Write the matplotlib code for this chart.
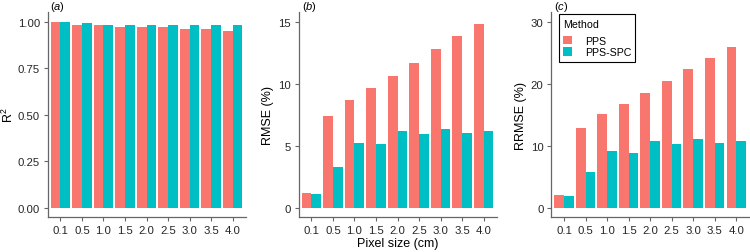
import numpy as np
import matplotlib
matplotlib.use("Agg")
import matplotlib.pyplot as plt

plt.rcParams["font.family"] = ["Liberation Sans", "DejaVu Sans"]
plt.rcParams["mathtext.fontset"] = "custom"
plt.rcParams["mathtext.rm"] = "Liberation Sans"
plt.rcParams["mathtext.it"] = "Liberation Sans:italic"

pixel_sizes = ["0.1", "0.5", "1.0", "1.5", "2.0", "2.5", "3.0", "3.5", "4.0"]
methods = ["PPS", "PPS-SPC"]

r2_pps = [1.00, 0.98, 0.98, 0.97, 0.97, 0.97, 0.96, 0.96, 0.95]
r2_spc = [1.00, 0.99, 0.98, 0.98, 0.98, 0.98, 0.98, 0.98, 0.98]

rmse_pps = [1.19, 7.39, 8.66, 9.61, 10.59, 11.70, 12.81, 13.86, 14.84]
rmse_spc = [1.11, 3.27, 5.25, 5.10, 6.18, 5.92, 6.36, 6.02, 6.21]

rrmse_pps = [2.02, 12.9, 15.08, 16.73, 18.43, 20.4, 22.3, 24.1, 25.9]
rrmse_spc = [1.86, 5.7, 9.16, 8.84, 10.7, 10.33, 11.08, 10.5, 10.76]

colors = {"PPS": "#F8766D", "PPS-SPC": "#00BFC4"}

panels = [
    ("a", "R$^2$", r2_pps, r2_spc, [0, 0.25, 0.5, 0.75, 1.0],
     ["0.00", "0.25", "0.50", "0.75", "1.00"], 1.0),
    ("b", "RMSE (%)", rmse_pps, rmse_spc, [0, 5, 10, 15],
     ["0", "5", "10", "15"], 14.84),
    ("c", "RRMSE (%)", rrmse_pps, rrmse_spc, [0, 10, 20, 30],
     ["0", "10", "20", "30"], 25.9),
]

fig = plt.figure(figsize=(7.5, 2.53), dpi=100)
lefts = [47.5, 298.5, 551.1]
W, H = 750.0, 253.0
x = np.arange(1, len(pixel_sizes) + 1)
w = 0.45
axis_col = "#666666"

for (tag, ylab, pps, spc, yt, ytl, ymax), left in zip(panels, lefts):
    ax = fig.add_axes([left / W, 35 / H, 198 / W, 204.7 / H])
    ax.bar(x - w / 2, pps, width=w, color=colors["PPS"], label="PPS")
    ax.bar(x + w / 2, spc, width=w, color=colors["PPS-SPC"], label="PPS-SPC")
    ax.set_xlim(0.4, 9.6)
    top = max(ymax, yt[-1])
    ax.set_ylim(-0.05 * top, 1.05 * top)
    ax.set_xticks(x)
    ax.set_xticklabels(pixel_sizes)
    ax.set_yticks(yt)
    ax.set_yticklabels(ytl)
    for s in ["top", "right"]:
        ax.spines[s].set_visible(False)
    for s in ["left", "bottom"]:
        ax.spines[s].set_color(axis_col)
        ax.spines[s].set_linewidth(0.9)
    ax.tick_params(length=3, width=0.8, color=axis_col, labelsize=8.2,
                   labelcolor="#262626", pad=2.5)
    ax.set_ylabel(ylab, fontsize=9, color="black",
                  labelpad=1 if tag == "a" else 3)
    # panel tag, placed just above the axes
    fig.text((left + 3) / W, 1 - 6.5 / H, "($\\it{%s}$)" % tag,
             fontsize=8, ha="left", va="center")
    if tag == "b":
        ax.set_xlabel("Pixel size (cm)", fontsize=9, labelpad=2)
    if tag == "c":
        leg = ax.legend(title="Method", loc="upper left",
                        bbox_to_anchor=(0.04, 0.99), fontsize=7.7,
                        title_fontsize=7.7, handlelength=0.8, handleheight=0.9,
                        handletextpad=1.2, borderpad=0.4, labelspacing=0.15,
                        fancybox=False, framealpha=1, borderaxespad=0)
        leg._legend_box.align = "left"
        leg._legend_box.sep = 5
        leg.get_frame().set_edgecolor("black")
        leg.get_frame().set_linewidth(0.8)

fig.savefig("out.png", dpi=100)
